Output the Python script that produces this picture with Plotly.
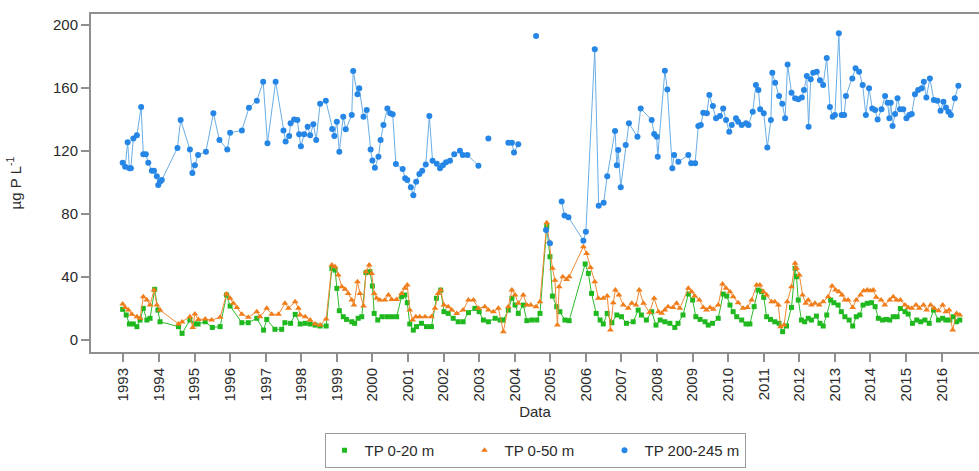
import plotly.graph_objects as go

# ---- data (decimal years, µg P L-1) ----
green_x = [1992.98,1993.08,1993.17,1993.28,1993.38,1993.47,1993.56,1993.66,1993.75,1993.88,1993.97,1994.03,
           1994.55,1994.65,1994.87,1995.01,1995.1,1995.3,1995.5,1995.72,1995.9,1996.0,1996.33,1996.51,1996.75,
           1996.94,1997.03,1997.26,1997.45,1997.54,1997.7,1997.83,1997.97,1998.11,1998.25,1998.39,1998.53,1998.7,
           1998.86,1998.95,1999.0,1999.07,1999.18,1999.27,1999.42,1999.5,1999.6,1999.7,1999.82,1999.93,2000.0,
           2000.05,2000.15,2000.27,2000.41,2000.54,2000.68,2000.82,2000.91,2000.98,2001.05,2001.15,2001.24,2001.38,
           2001.52,2001.66,2001.8,2001.92,2002.01,2002.13,2002.27,2002.41,2002.55,2002.7,2002.88,2003.0,2003.12,
           2003.26,2003.45,2003.59,2003.68,2003.82,2003.92,2004.01,2004.1,2004.24,2004.34,2004.48,2004.62,2004.71,
           2004.9,2004.99,2005.06,2005.18,2005.27,2005.41,2005.53,2005.98,2006.07,2006.16,2006.29,2006.4,2006.49,
           2006.6,2006.73,2006.87,2007.0,2007.14,2007.33,2007.47,2007.56,2007.7,2007.85,2007.97,2008.09,2008.22,
           2008.36,2008.5,2008.59,2008.73,2008.88,2009.0,2009.09,2009.21,2009.35,2009.44,2009.56,2009.72,2009.86,
           2009.96,2010.05,2010.14,2010.24,2010.38,2010.5,2010.61,2010.73,2010.84,2010.94,2011.0,2011.08,2011.19,
           2011.31,2011.43,2011.53,2011.64,2011.78,2011.88,2011.92,2011.97,2012.06,2012.15,2012.25,2012.34,2012.48,
           2012.58,2012.67,2012.77,2012.88,2012.97,2013.09,2013.18,2013.28,2013.4,2013.5,2013.6,2013.7,2013.79,
           2013.91,2014.03,2014.13,2014.22,2014.34,2014.45,2014.54,2014.64,2014.75,2014.84,2014.97,2015.06,2015.18,
           2015.3,2015.41,2015.53,2015.65,2015.77,2015.91,2016.03,2016.12,2016.23,2016.33,2016.42,2016.51]
green_y = [19.5,15.9,10.2,10.2,8.5,12.7,20.1,12.7,13.8,32.2,19,11.6,
           8.5,4.2,12.7,10.2,10.2,11.6,8,8.5,28.6,21.6,11,11,13.8,
           6.3,13.1,6.8,6.8,11,10.6,16.3,10.2,10.6,10.2,9.5,8.9,8.9,
           45.5,44.4,32.8,18.6,14.8,13.1,11.6,10.6,13.8,14.8,42.8,43.4,34.3,
           16.9,12.7,14.8,14.8,14.8,14.8,27.5,28.6,23.7,10.2,6.3,8.5,10.6,
           8.5,8.5,26.5,31.7,18,16.9,13.8,11.6,11.6,17.4,20.1,18,12.7,
           11.6,13.8,12.7,12.7,19,26.5,22.2,16.9,22.2,12.3,12.7,12.7,16.9,
           72,52.9,27.9,21.2,18,12.7,12.3,48.3,42.3,29.6,16.9,12.7,10.2,
           16.9,11,15.9,14.8,10.6,11.6,19,15.9,12.7,18,9.5,12.7,11.6,
           10.6,8,10.6,15.9,29.2,25.4,14.8,13.1,11.6,9.5,10.6,13.8,29.2,
           27.9,22.2,18,14.8,12.7,10.2,10.2,21.2,31.7,30.7,27.1,14.8,13.1,
           11.6,10.6,5.3,8.9,20.7,45.5,40.2,25.4,12.7,11.6,13.8,12.7,15.2,
           10.6,8.9,15.9,25.4,23.7,22.2,18,14.8,12.7,8.9,14.8,15.9,22.2,
           23.3,23.7,21.2,13.8,12.7,13.1,12.7,14.8,14.8,20,18,16.5,10.6,
           12.7,11.6,12.7,10.6,19,12.7,13.8,12.7,12.7,14.8,11.6,12.7]

orange_x = [1992.98,1993.05,1993.14,1993.24,1993.38,1993.47,1993.56,1993.66,1993.75,1993.86,1993.94,1994.03,
            1994.55,1994.65,1994.87,1994.95,1995.01,1995.11,1995.3,1995.48,1995.72,1995.9,1996.0,1996.09,1996.19,
            1996.33,1996.51,1996.75,1996.84,1997.03,1997.17,1997.36,1997.54,1997.64,1997.83,1997.92,1997.97,1998.11,
            1998.25,1998.39,1998.53,1998.7,1998.86,1998.95,1999.04,1999.14,1999.23,1999.32,1999.42,1999.48,1999.58,
            1999.65,1999.75,1999.82,1999.91,1999.98,2000.05,2000.12,2000.21,2000.35,2000.45,2000.54,2000.68,2000.82,
            2000.91,2000.98,2001.05,2001.13,2001.22,2001.33,2001.48,2001.66,2001.76,2001.85,2001.92,2002.01,2002.13,
            2002.23,2002.37,2002.55,2002.7,2002.84,2002.98,2003.16,2003.26,2003.4,2003.54,2003.68,2003.82,2003.92,
            2004.01,2004.1,2004.24,2004.34,2004.45,2004.6,2004.71,2004.9,2004.97,2005.06,2005.13,2005.2,2005.25,
            2005.35,2005.46,2005.53,2005.93,2006.02,2006.13,2006.25,2006.35,2006.49,2006.6,2006.69,2006.77,2006.83,
            2006.93,2007.05,2007.19,2007.29,2007.41,2007.5,2007.62,2007.79,2007.92,2008.04,2008.13,2008.22,2008.31,
            2008.45,2008.55,2008.64,2008.88,2008.97,2009.06,2009.19,2009.3,2009.39,2009.49,2009.58,2009.72,2009.84,
            2009.94,2010.05,2010.14,2010.28,2010.42,2010.54,2010.66,2010.8,2010.89,2010.99,2011.08,2011.22,2011.31,
            2011.41,2011.47,2011.57,2011.66,2011.78,2011.88,2011.92,2012.0,2012.09,2012.18,2012.25,2012.34,2012.44,
            2012.56,2012.67,2012.81,2012.92,2013.02,2013.11,2013.2,2013.28,2013.37,2013.5,2013.6,2013.72,2013.81,
            2013.91,2014.0,2014.08,2014.16,2014.3,2014.4,2014.54,2014.64,2014.73,2014.84,2014.97,2015.06,2015.16,
            2015.28,2015.37,2015.49,2015.58,2015.69,2015.79,2015.91,2016.03,2016.12,2016.21,2016.31,2016.42,2016.51]
orange_y = [22.9,20.7,19,16.3,14.8,13.8,27.5,25.4,22.2,31.7,22.2,19,
            10.2,11.5,14.8,8,16.5,13.1,13.3,12.7,14.4,29.2,26.5,23.3,20.7,
            16.3,14.4,18,14.8,20.1,16.3,16.3,23.3,20.1,24.3,20.1,15.9,14.8,
            12.7,10.2,9.5,13.3,47.6,46.6,41.3,33.9,32.2,29.6,25.4,22.2,37,
            29.6,21.6,43.4,47.6,42.3,29.6,26.5,25.4,25.4,28.6,25.8,25.8,29.6,
            32.8,34.9,19,12.7,14.8,14.8,14.8,14.8,20.1,29.6,31.7,22.2,21.2,
            19,16.9,19,25.4,25.4,20.1,21.2,19,18,20.1,5.3,21.2,31.7,
            28.6,23.3,28.6,22.2,22.2,21.2,24.3,74.5,62.4,45.5,38,9.5,33.9,
            40.2,38.5,40.2,59.3,55,46.1,37,26.5,26.5,27.9,6.3,23.7,31.7,
            28.6,22.2,20.1,23.3,22.2,31.7,23.3,17.4,26.5,18,17,19,21.2,
            20.7,23.3,20.1,32.8,30.7,27.9,25.4,20.7,19,20.7,19.5,22.2,35.6,
            32.8,30.7,27.5,23.7,20.1,20.7,25.4,34.9,34.9,30.7,28.6,24.3,24.3,
            22.2,8.5,9.5,24.3,33.9,48.7,45.5,41.3,28.6,23.3,25.4,22.2,23.3,
            22.2,24.3,27.5,34.3,31.7,30.7,28.6,25.4,25.4,20.7,25.4,28.6,31.3,
            31.7,31.3,31.7,27.1,25.4,22.2,25.4,27.5,25.4,25.4,22.2,20.7,20.1,
            22.2,20.1,22.2,19,22.2,20.1,18.6,22.2,18,19,6.3,16.9,15.9]

blue_x = [1992.98,1993.05,1993.12,1993.17,1993.21,1993.28,1993.38,1993.5,1993.56,1993.63,1993.7,1993.8,
          1993.86,1993.94,1993.98,1994.03,1994.08,1994.52,1994.61,1994.87,1994.94,1995.01,1995.1,1995.32,
          1995.53,1995.7,1995.92,1996.0,1996.33,1996.53,1996.75,1996.93,1997.05,1997.28,1997.5,1997.56,
          1997.66,1997.7,1997.8,1997.89,1997.94,1997.99,1998.08,1998.18,1998.25,1998.34,1998.42,1998.53,
          1998.69,1998.87,1998.93,1999.0,1999.07,1999.18,1999.25,1999.42,1999.46,1999.58,1999.63,1999.75,
          1999.84,1999.95,2000.0,2000.07,2000.17,2000.23,2000.31,2000.42,2000.5,2000.57,2000.66,2000.85,
          2000.92,2000.98,2001.08,2001.15,2001.23,2001.32,2001.4,2001.5,2001.6,2001.69,2001.81,2001.9,
          2001.98,2002.07,2002.18,2002.3,2002.46,2002.54,2002.67,2002.98,2003.1,2003.26,2003.5,2003.82,
          2003.92,2003.98,2004.1,2004.3,2004.6,2004.75,2004.88,2004.99,2005.15,2005.32,2005.4,2005.51,
          2005.93,2006.0,2006.25,2006.36,2006.5,2006.6,2006.82,2006.87,2006.91,2006.98,2007.12,2007.21,
          2007.45,2007.54,2007.85,2007.92,2007.99,2008.02,2008.22,2008.29,2008.43,2008.48,2008.6,2008.88,
          2008.96,2009.07,2009.16,2009.23,2009.3,2009.4,2009.47,2009.57,2009.66,2009.77,2009.86,2009.94,
          2010.03,2010.1,2010.22,2010.28,2010.38,2010.5,2010.57,2010.69,2010.78,2010.85,2010.9,2011.0,
          2011.1,2011.2,2011.24,2011.32,2011.43,2011.52,2011.6,2011.67,2011.78,2011.88,2011.97,2012.07,
          2012.13,2012.21,2012.26,2012.32,2012.39,2012.49,2012.58,2012.67,2012.77,2012.86,2012.94,2013.0,
          2013.11,2013.19,2013.26,2013.31,2013.49,2013.58,2013.68,2013.78,2013.87,2013.96,2014.05,2014.13,
          2014.2,2014.31,2014.41,2014.48,2014.53,2014.57,2014.62,2014.69,2014.76,2014.83,2014.92,2015.01,
          2015.09,2015.16,2015.25,2015.34,2015.44,2015.5,2015.57,2015.67,2015.78,2015.88,2015.97,2016.05,
          2016.12,2016.19,2016.26,2016.37,2016.47]
blue_y = [112.6,110,125.5,109,109,128,130,148,118,118,112.6,107.5,
          107.5,104,98.4,100.5,101.6,122,139.7,121,106,111,117.5,119.6,
          144,127,121,131.6,133,147.5,152,164,125,164,133,126,
          129.5,137.6,140,139.7,130.6,123,130.6,135.4,130,137,127,150,
          152,134,129.5,138.6,119.6,141.8,133.8,142.8,170.8,156,159.8,141.8,
          146,121,114,109.4,116.4,127,136.5,147,144,143.3,111.7,108.6,
          102.7,101.6,97,92,100.5,105.4,107.5,111.5,142.2,113.8,112,109,
          111,112.8,113.8,118,120.2,117.5,117.5,110.7,None,128,None,125.3,
          125.3,119,124.3,None,193,None,69.8,61.4,None,88,79,78,
          63,68.8,184.6,85.3,87.2,104,132.7,111,120.6,97,123.8,137.6,
          129,147,139.7,130.8,129,116.4,171,159,109,117.5,113.2,117.5,
          112.2,112.2,135.9,136.5,144.3,144,155.6,148.6,140.8,142.2,147,139.7,
          132.3,136.5,140.8,138.6,136.5,137.6,136.5,145,162,158.7,146.5,144,
          122.3,139.7,169.7,163.4,155,150,140.8,175,157,153.5,152.8,154,
          158.7,167.6,135.4,165.5,169.7,170.3,165,162,179,148,141.8,142.8,
          194.7,142.8,142.8,155,166,172.5,170.3,162,142.8,159.8,147,146,
          140,146.5,155,150.7,140.8,150.7,135.9,143.5,153.5,146.5,146.5,140.8,
          142.8,143.5,156,158.7,159.8,164,154,166,152.4,152,145.6,151.3,
          147.7,145,142.8,153.5,161.5]

year_ticks = list(range(1993, 2017))
year_labels = [str(y) for y in year_ticks]
y_ticks = [0, 40, 80, 120, 160, 200]

series_names = ["TP 0-20 m", "TP 0-50 m", "TP 200-245 m"]

FONT = "Liberation Sans, Arial, sans-serif"
AX = "#8f8f8f"

styles = [
    dict(line=dict(color="#2dbb2d", width=1), marker=dict(symbol="square", size=5, color="#1fb81f")),
    dict(line=dict(color="#f08a35", width=1), marker=dict(symbol="triangle-up", size=6, color="#f07d1a")),
    dict(line=dict(color="#6aaee6", width=1), marker=dict(symbol="circle", size=6, color="#2586e6")),
]
data = [(green_x, green_y), (orange_x, orange_y), (blue_x, blue_y)]

fig = go.Figure()
for (xs, ys), st, nm in zip(data, styles, series_names):
    fig.add_trace(go.Scatter(x=xs, y=ys, name=nm, mode="lines+markers", connectgaps=False,
                             line=st["line"], marker=st["marker"], showlegend=False, legendgroup=nm))
# legend entries: markers only, as in the reference
for st, nm in zip(styles, series_names):
    fig.add_trace(go.Scatter(x=[None], y=[None], name=nm, mode="markers",
                             marker=st["marker"], showlegend=True, legendgroup=nm))

fig.update_layout(
    width=979, height=471,
    margin=dict(l=91, r=0, t=14, b=119),
    paper_bgcolor="white", plot_bgcolor="white",
    font=dict(family=FONT, size=15, color="#2a2a2a"),
    showlegend=True,
    legend=dict(orientation="h", x=0.5, xanchor="center", y=-0.24, yanchor="top",
                bordercolor="#9a9a9a", borderwidth=1, entrywidth=95, entrywidthmode="pixels",
                font=dict(size=15), itemsizing="trace"),
)
fig.update_xaxes(range=[1992.09, 2017.05], tickmode="array", tickvals=year_ticks, ticktext=year_labels,
                 tickangle=-90, ticks="outside", ticklen=8, tickcolor=AX, tickwidth=1.5,
                 showline=True, linecolor=AX, linewidth=2, mirror=True, showgrid=False, zeroline=False,
                 title=dict(text="Data", standoff=6, font=dict(size=15)))
fig.update_yaxes(range=[-7.6, 207], tickmode="array", tickvals=y_ticks,
                 ticks="outside", ticklen=8, tickcolor=AX, tickwidth=1.5,
                 showline=True, linecolor=AX, linewidth=2, showgrid=False, zeroline=False,
                 title=dict(text="µg P L<sup>-1</sup>", standoff=28, font=dict(size=15)))

fig.write_html("out.html")
